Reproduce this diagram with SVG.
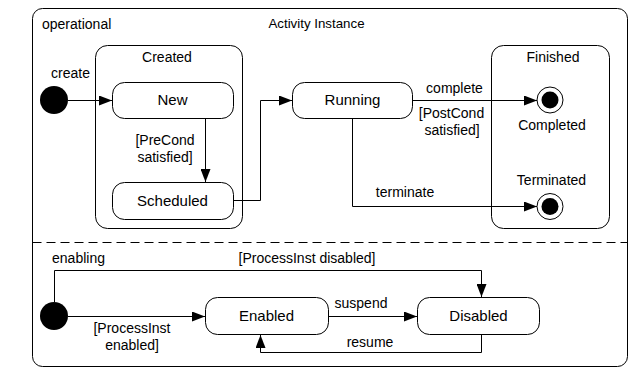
<svg xmlns="http://www.w3.org/2000/svg" width="636" height="369" viewBox="0 0 636 369">
  <style>
    text { font-family: "Liberation Sans", Arial, sans-serif; fill: #000; }
    .lbl { font-size: 14px; }
    .st { font-size: 15px; }
    .mid { text-anchor: middle; }
    .box { fill: #fff; stroke: #000; stroke-width: 1; }
    .edge { fill: none; stroke: #000; stroke-width: 1; marker-end: url(#arrow); }
    .dot { fill: #000; }
  </style>
  <defs>
    <marker id="arrow" markerUnits="userSpaceOnUse" markerWidth="13" markerHeight="10" refX="13" refY="5" orient="auto">
      <path d="M0,0 L13,5 L0,10 z" fill="#000"/>
    </marker>
  </defs>
  <rect width="636" height="369" fill="#fff"/>

  <!-- outer composite state with its two regions -->
  <g id="activity-instance">
    <rect class="box" x="32.5" y="8.5" width="595" height="358" rx="10"/>
    <line x1="32.5" y1="242.5" x2="627.5" y2="242.5" stroke="#000" stroke-width="1" stroke-dasharray="9,5"/>
    <text class="lbl" x="42" y="29">operational</text>
    <text class="mid" x="316.5" y="28" font-size="13.3">Activity Instance</text>
  </g>

  <g id="created">
    <rect class="box" x="95.5" y="45.5" width="147" height="183" rx="12"/>
    <text class="lbl mid" x="167" y="62">Created</text>
  </g>

  <g id="finished">
    <rect class="box" x="491.5" y="45.5" width="118" height="183" rx="12"/>
    <text class="lbl mid" x="553" y="62">Finished</text>
  </g>

  <g id="init-operational">
    <circle class="dot" cx="54" cy="100" r="14"/>
  </g>

  <g id="new">
    <rect class="box" x="112.5" y="82.5" width="121" height="36" rx="12"/>
    <text class="st mid" x="172.5" y="105">New</text>
  </g>

  <g id="scheduled">
    <rect class="box" x="112.5" y="182.5" width="121" height="37" rx="12"/>
    <text class="st mid" x="172.5" y="205.5">Scheduled</text>
  </g>

  <g id="running">
    <rect class="box" x="292.5" y="82.5" width="120" height="36" rx="12"/>
    <text class="st mid" x="352.5" y="105">Running</text>
  </g>

  <g id="completed">
    <circle cx="550" cy="100" r="13" fill="#fff" stroke="#000" stroke-width="1"/>
    <circle class="dot" cx="550" cy="100" r="8.5"/>
    <text class="lbl mid" x="552" y="130">Completed</text>
  </g>

  <g id="terminated">
    <circle cx="550" cy="206.5" r="13" fill="#fff" stroke="#000" stroke-width="1"/>
    <circle class="dot" cx="550" cy="206.5" r="8.5"/>
    <text class="lbl mid" x="551.5" y="185">Terminated</text>
  </g>

  <g id="init-enabling">
    <circle class="dot" cx="54" cy="316" r="14"/>
  </g>

  <g id="enabled">
    <rect class="box" x="205.5" y="297.5" width="123" height="37" rx="12"/>
    <text class="st mid" x="266.5" y="321">Enabled</text>
  </g>

  <g id="disabled">
    <rect class="box" x="417.5" y="297.5" width="122" height="37" rx="12"/>
    <text class="st mid" x="478.5" y="321">Disabled</text>
  </g>

  <!-- transitions -->
  <g id="connectors">
    <path class="edge" d="M68,100.5 H112"/>
    <path class="edge" d="M205.5,118.5 V182"/>
    <path class="edge" d="M233.5,200.5 H260.5 V100.5 H292"/>
    <path class="edge" d="M412.5,100.5 H537"/>
    <path class="edge" d="M352.5,118.5 V206.5 H537"/>
    <path class="edge" d="M54.5,302 V270.5 H481.5 V297"/>
    <path class="edge" d="M68,316.5 H205"/>
    <path class="edge" d="M328.5,316.5 H417"/>
    <path class="edge" d="M481.5,334.5 V352.5 H260.5 V335"/>

    <text class="lbl mid" x="70.5" y="78">create</text>
    <text class="lbl mid" x="165" y="145">[PreCond</text>
    <text class="lbl mid" x="165" y="161.5">satisfied]</text>
    <text class="lbl mid" x="454.5" y="93">complete</text>
    <text class="lbl mid" x="451.5" y="118">[PostCond</text>
    <text class="lbl mid" x="452" y="135">satisfied]</text>
    <text class="lbl mid" x="405" y="196.5">terminate</text>
    <text class="lbl mid" x="78.5" y="263">enabling</text>
    <text class="lbl mid" x="307" y="263">[ProcessInst disabled]</text>
    <text class="lbl mid" x="132" y="333">[ProcessInst</text>
    <text class="lbl mid" x="132" y="350">enabled]</text>
    <text class="lbl mid" x="361" y="308">suspend</text>
    <text class="lbl mid" x="370" y="347">resume</text>
  </g>
</svg>
